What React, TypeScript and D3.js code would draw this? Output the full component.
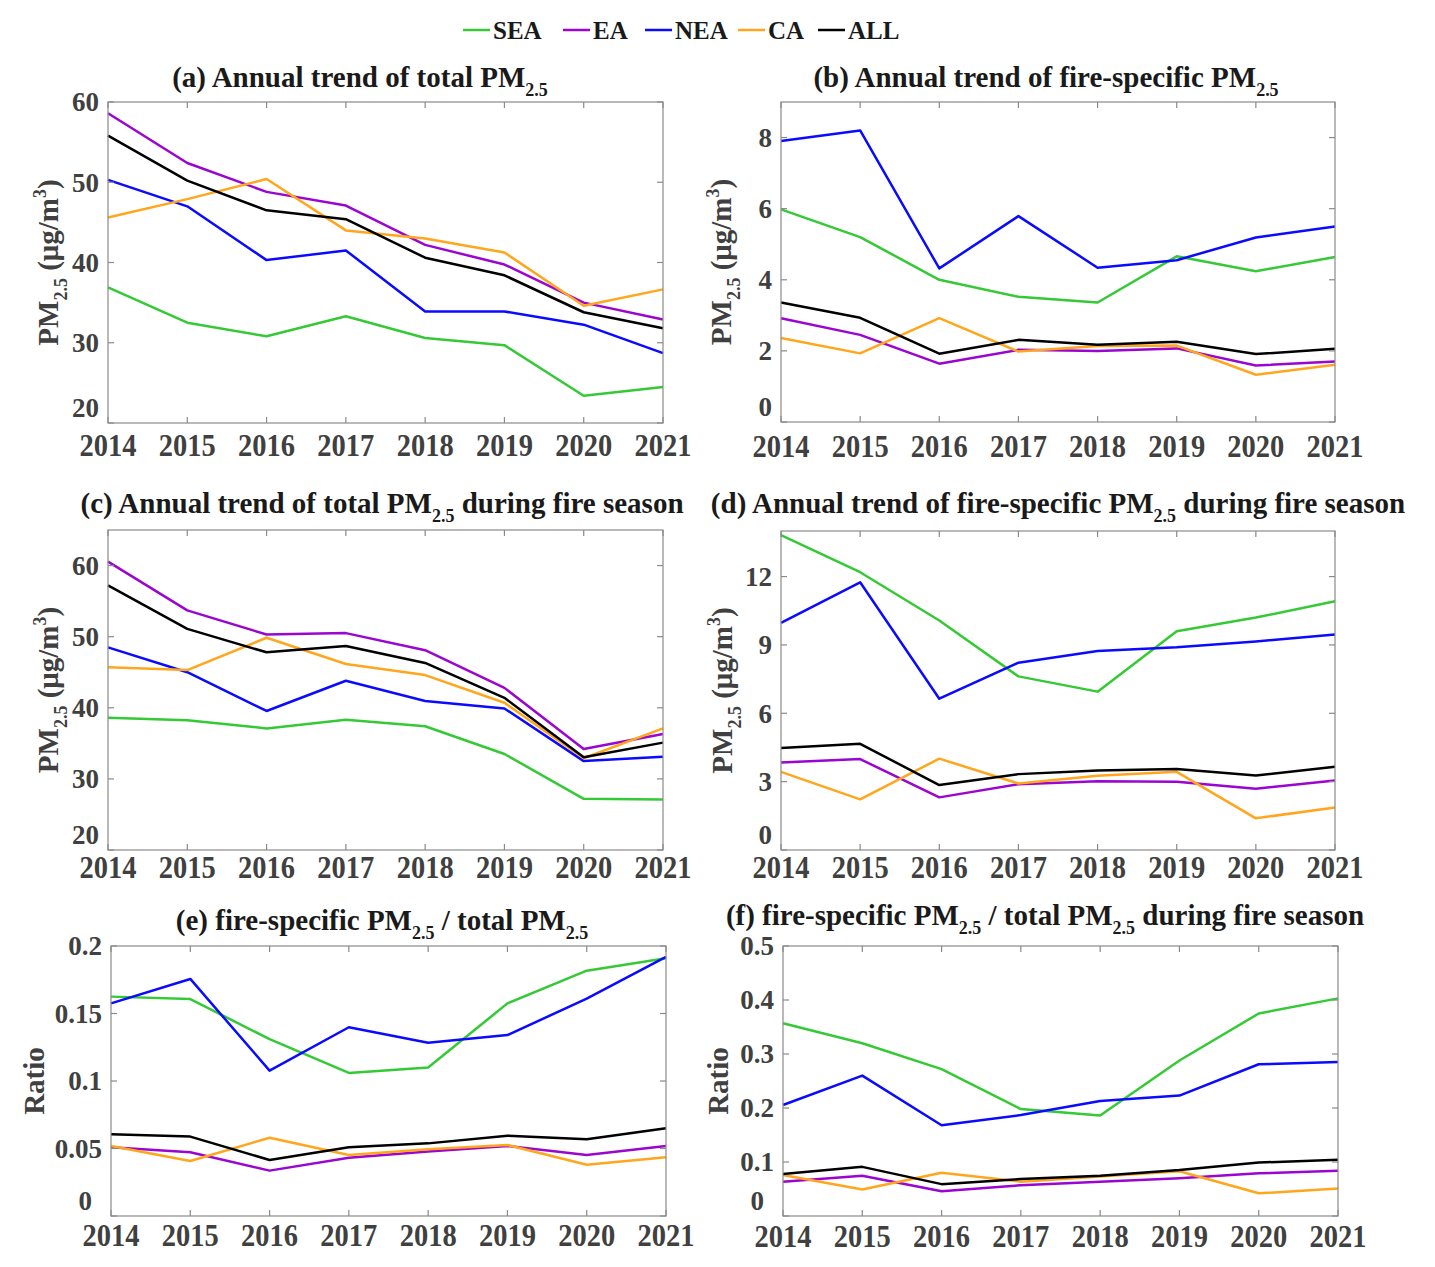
import React, { useEffect, useRef } from 'react'
import * as d3 from 'd3'

const years = [2014, 2015, 2016, 2017, 2018, 2019, 2020, 2021]
const regions = ['SEA', 'EA', 'NEA', 'CA', 'ALL']
const regionColors = ['#35c935', '#9a06cf', '#0a0aff', '#ffa61c', '#000000']

// rows follow the order of `regions`
// (a) annual total PM2.5 (ug/m3)
const totalPM = [
  [36.9, 32.5, 30.8, 33.3, 30.6, 29.7, 23.4, 24.5],
  [58.6, 52.4, 48.8, 47.1, 42.2, 39.75, 35.0, 32.9],
  [50.3, 47.0, 40.3, 41.5, 33.9, 33.9, 32.25, 28.7],
  [45.6, 47.9, 50.4, 44.0, 43.0, 41.25, 34.6, 36.65],
  [55.8, 50.2, 46.5, 45.4, 40.6, 38.4, 33.8, 31.8],
]
// (b) annual fire-specific PM2.5
const firePM = [
  [5.98, 5.2, 4.0, 3.52, 3.36, 4.66, 4.24, 4.64],
  [2.92, 2.45, 1.64, 2.03, 2.0, 2.07, 1.59, 1.7],
  [7.9, 8.2, 4.32, 5.79, 4.34, 4.55, 5.19, 5.5],
  [2.36, 1.93, 2.92, 1.98, 2.14, 2.15, 1.33, 1.61],
  [3.36, 2.93, 1.92, 2.31, 2.17, 2.26, 1.91, 2.06],
]
// (c) total PM2.5 during fire season
const totalPMSeason = [
  [38.6, 38.25, 37.1, 38.3, 37.4, 33.5, 27.2, 27.1],
  [60.56, 53.7, 50.3, 50.5, 48.1, 42.8, 34.2, 36.3],
  [48.5, 45.0, 39.55, 43.8, 40.96, 39.9, 32.5, 33.1],
  [45.7, 45.3, 49.85, 46.15, 44.6, 40.7, 32.9, 37.1],
  [57.2, 51.1, 47.8, 48.7, 46.3, 41.4, 33.05, 35.1],
]
// (d) fire-specific PM2.5 during fire season
const firePMSeason = [
  [13.82, 12.19, 10.07, 7.62, 6.95, 9.6, 10.2, 10.92],
  [3.84, 3.99, 2.31, 2.89, 3.02, 3.0, 2.69, 3.05],
  [9.97, 11.75, 6.64, 8.22, 8.73, 8.9, 9.15, 9.46],
  [3.43, 2.22, 4.01, 2.92, 3.26, 3.43, 1.39, 1.87],
  [4.48, 4.66, 2.85, 3.33, 3.49, 3.55, 3.27, 3.65],
]
// (e) fire-specific / total
const fireRatio = [
  [0.1625, 0.1607, 0.131, 0.106, 0.11, 0.1575, 0.1817, 0.191],
  [0.0509, 0.0472, 0.0336, 0.0432, 0.0477, 0.0519, 0.0452, 0.0519],
  [0.1575, 0.1756, 0.1077, 0.1398, 0.1284, 0.134, 0.161, 0.192],
  [0.0519, 0.0407, 0.058, 0.0452, 0.0494, 0.0526, 0.038, 0.0435],
  [0.0605, 0.0588, 0.0415, 0.0509, 0.0538, 0.0595, 0.0568, 0.065],
]
// (f) fire-specific / total during fire season
const fireRatioSeason = [
  [0.357, 0.32, 0.272, 0.198, 0.186, 0.288, 0.375, 0.403],
  [0.0636, 0.0747, 0.046, 0.057, 0.0636, 0.0698, 0.079, 0.084],
  [0.2056, 0.26, 0.168, 0.187, 0.213, 0.223, 0.281, 0.285],
  [0.076, 0.049, 0.08, 0.0636, 0.073, 0.083, 0.042, 0.051],
  [0.078, 0.091, 0.059, 0.0685, 0.0747, 0.085, 0.099, 0.104],
]

type Part = [string, 'n' | 'sub' | 'sup']

const pmUnit: Part[] = [['PM', 'n'], ['2.5', 'sub'], [' (μg/m', 'n'], ['3', 'sup'], [')', 'n']]
const ratioUnit: Part[] = [['Ratio', 'n']]

interface Panel {
  title: Part[]
  values: number[][]
  yDomain: [number, number]
  yTicks: number[]
  yUnit: Part[]
  box: [number, number, number, number] // left, right, top, bottom
  titlePos: [number, number]
  yLabelX: number
  xLabelGap: number
}

const panels: Panel[] = [
  {
    title: [['(a) Annual trend of total PM', 'n'], ['2.5', 'sub']],
    values: totalPM, yDomain: [20, 60], yTicks: [20, 30, 40, 50, 60], yUnit: pmUnit,
    box: [108, 663, 102, 423], titlePos: [360, 87], yLabelX: 58, xLabelGap: 33,
  },
  {
    title: [['(b) Annual trend of fire-specific PM', 'n'], ['2.5', 'sub']],
    values: firePM, yDomain: [0, 9], yTicks: [0, 2, 4, 6, 8], yUnit: pmUnit,
    box: [781, 1335, 102, 422], titlePos: [1046, 87], yLabelX: 731, xLabelGap: 35,
  },
  {
    title: [['(c) Annual trend of total PM', 'n'], ['2.5', 'sub'], [' during fire season', 'n']],
    values: totalPMSeason, yDomain: [20, 65], yTicks: [20, 30, 40, 50, 60], yUnit: pmUnit,
    box: [108, 663, 530, 850], titlePos: [382, 513], yLabelX: 58, xLabelGap: 28,
  },
  {
    title: [['(d) Annual trend of fire-specific PM', 'n'], ['2.5', 'sub'], [' during fire season', 'n']],
    values: firePMSeason, yDomain: [0, 14], yTicks: [0, 3, 6, 9, 12], yUnit: pmUnit,
    box: [781, 1335, 531, 850], titlePos: [1058, 513], yLabelX: 732, xLabelGap: 28,
  },
  {
    title: [['(e) fire-specific PM', 'n'], ['2.5', 'sub'], [' / total PM', 'n'], ['2.5', 'sub']],
    values: fireRatio, yDomain: [0, 0.2], yTicks: [0, 0.05, 0.1, 0.15, 0.2], yUnit: ratioUnit,
    box: [111, 666, 946, 1216], titlePos: [382, 930], yLabelX: 44, xLabelGap: 30,
  },
  {
    title: [['(f) fire-specific PM', 'n'], ['2.5', 'sub'], [' / total PM', 'n'], ['2.5', 'sub'], [' during fire season', 'n']],
    values: fireRatioSeason, yDomain: [0, 0.5], yTicks: [0, 0.1, 0.2, 0.3, 0.4, 0.5], yUnit: ratioUnit,
    box: [783, 1338, 946, 1216], titlePos: [1045, 925], yLabelX: 728, xLabelGap: 31,
  },
]

const FONT = '"Liberation Serif", "Times New Roman", serif'
const TICK_COLOR = '#404040'
const AXIS_COLOR = '#8a8a8a'

// text with sub/superscript pieces
function richText(sel: d3.Selection<SVGTextElement, unknown, null, undefined>, parts: Part[], size: number) {
  let shift = 0
  parts.forEach(([t, kind]) => {
    const target = kind === 'sub' ? size * 0.3 : kind === 'sup' ? -size * 0.4 : 0
    sel.append('tspan')
      .attr('dy', target - shift)
      .attr('font-size', kind === 'n' ? size : size * 0.62)
      .text(t)
    shift = target
  })
}

const App: React.FC = () => {
  const svgRef = useRef<SVGSVGElement>(null)

  useEffect(() => {
    const svg = d3.select(svgRef.current)
    svg.selectAll('*').remove()

    svg.append('rect').attr('width', 1435).attr('height', 1267).attr('fill', '#fff')

    // legend
    const legendX = [463, 563, 645, 738, 818]
    const legend = svg.append('g').attr('font-family', FONT).attr('font-weight', 'bold')
    regions.forEach((r, i) => {
      legend.append('line')
        .attr('x1', legendX[i]).attr('x2', legendX[i] + 27)
        .attr('y1', 30).attr('y2', 30)
        .attr('stroke', regionColors[i]).attr('stroke-width', 2.5)
      legend.append('text')
        .attr('x', legendX[i] + 30).attr('y', 38.5)
        .attr('font-size', 25).attr('fill', '#1a1a1a')
        .text(r)
    })

    panels.forEach((p) => {
      const [left, right, top, bottom] = p.box
      const x = d3.scaleLinear().domain([years[0], years[years.length - 1]]).range([left, right])
      const y = d3.scaleLinear().domain(p.yDomain).range([bottom, top])
      const g = svg.append('g').attr('font-family', FONT).attr('font-weight', 'bold')

      // series lines
      const line = d3.line<number>()
        .x((_, i) => x(years[i]))
        .y((d) => y(d))
      p.values.forEach((vals, i) => {
        g.append('path')
          .datum(vals)
          .attr('fill', 'none')
          .attr('stroke', regionColors[i])
          .attr('stroke-width', 2.5)
          .attr('stroke-linejoin', 'round')
          .attr('d', line)
      })

      // box
      g.append('rect')
        .attr('x', left).attr('y', top)
        .attr('width', right - left).attr('height', bottom - top)
        .attr('fill', 'none').attr('stroke', AXIS_COLOR).attr('stroke-width', 1.2)

      // inward ticks on all four sides
      const tk = 6
      years.forEach((yr) => {
        g.append('line').attr('x1', x(yr)).attr('x2', x(yr)).attr('y1', bottom).attr('y2', bottom - tk)
          .attr('stroke', AXIS_COLOR).attr('stroke-width', 1.2)
        g.append('line').attr('x1', x(yr)).attr('x2', x(yr)).attr('y1', top).attr('y2', top + tk)
          .attr('stroke', AXIS_COLOR).attr('stroke-width', 1.2)
        // x tick labels drawn a little taller, like the reference
        g.append('text')
          .attr('transform', `translate(${x(yr)},${bottom + p.xLabelGap}) scale(1,1.08)`)
          .attr('text-anchor', 'middle').attr('font-size', 28.5).attr('fill', TICK_COLOR)
          .text(yr)
      })
      const isRatio = p.yUnit === ratioUnit
      p.yTicks.forEach((v, i) => {
        g.append('line').attr('x1', left).attr('x2', left + tk).attr('y1', y(v)).attr('y2', y(v))
          .attr('stroke', AXIS_COLOR).attr('stroke-width', 1.2)
        g.append('line').attr('x1', right).attr('x2', right - tk).attr('y1', y(v)).attr('y2', y(v))
          .attr('stroke', AXIS_COLOR).attr('stroke-width', 1.2)
        g.append('text')
          .attr('x', left - 9 - (isRatio && v === 0 ? 10 : 0))
          .attr('y', y(v) + (i === 0 ? -15 : 0))
          .attr('dy', '0.35em')
          .attr('text-anchor', 'end').attr('font-size', 27).attr('fill', TICK_COLOR)
          .text(d3.format('~g')(v))
      })

      // y label
      const cy = (top + bottom) / 2
      const yl = g.append('text')
        .attr('transform', `translate(${p.yLabelX},${cy}) rotate(-90)`)
        .attr('text-anchor', 'middle').attr('fill', TICK_COLOR)
      richText(yl, p.yUnit, 29)

      // title
      const t = g.append('text')
        .attr('x', p.titlePos[0]).attr('y', p.titlePos[1])
        .attr('text-anchor', 'middle').attr('fill', '#1a1a1a')
      richText(t, p.title, 29)
    })
  }, [])

  return (
    <div style={{ position: 'absolute', left: 0, top: 0 }}>
      <svg ref={svgRef} width={1435} height={1267} style={{ display: 'block' }}></svg>
    </div>
  )
}

export default App
